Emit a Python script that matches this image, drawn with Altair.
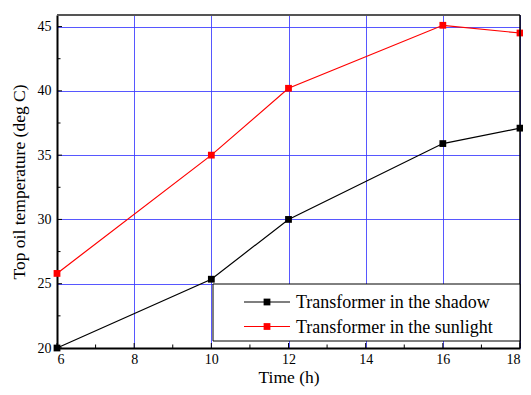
import altair as alt
import pandas as pd

time_h = [6, 10, 12, 16, 18]
shadow = [20.0, 25.35, 30.0, 35.9, 37.1]
sunlight = [25.8, 35.0, 40.2, 45.1, 44.5]
series_names = ["Transformer in the shadow", "Transformer in the sunlight"]
series_colors = ["#000000", "#ff0000"]
x_major = [6, 8, 10, 12, 14, 16, 18]
x_minor = [7, 9, 11, 13, 15, 17]
y_major = [20, 25, 30, 35, 40, 45]
y_minor = [22.5, 27.5, 32.5, 37.5, 42.5]

rows = []
for t, v in zip(time_h, shadow):
    rows.append({"time": t, "temp": v, "series": series_names[0]})
for t, v in zip(time_h, sunlight):
    rows.append({"time": t, "temp": v, "series": series_names[1]})
df = pd.DataFrame(rows)

W, H = 463, 333
FONT = "Liberation Serif"
GRID = "#3a3aff"
xs = alt.Scale(domain=[6, 18], nice=False, zero=False)
ys = alt.Scale(domain=[20, 45.9], nice=False, zero=False)
cs = alt.Scale(domain=series_names, range=series_colors)

axis_common = dict(grid=True, gridColor=GRID, gridWidth=1, gridOpacity=0.85, ticks=False,
                   domainColor="#000", domainWidth=2, labelFont=FONT, labelFontSize=14,
                   labelColor="#000", titleFont=FONT, titleFontSize=17.5,
                   titleFontWeight="normal", titleColor="#000")

lines = alt.Chart(df).mark_line(
    strokeWidth=1.2,
    point=alt.OverlayMarkDef(shape="square", size=46, filled=True, opacity=1),
    clip=False,
).encode(
    x=alt.X("time:Q", scale=xs, title="Time (h)",
            axis=alt.Axis(values=x_major, labelPadding=4, titlePadding=2, **axis_common)),
    y=alt.Y("temp:Q", scale=ys, title="Top oil temperature (deg C)",
            axis=alt.Axis(values=y_major, labelPadding=6, titlePadding=9, **axis_common)),
    color=alt.Color("series:N", scale=cs, legend=None),
)

one = pd.DataFrame({"a": [0]})
xt_major = alt.Chart(pd.DataFrame({"t": x_major})).mark_rule(color="#000", strokeWidth=1).encode(
    x=alt.X("t:Q", scale=xs), y=alt.value(H), y2=alt.value(H - 5))
xt_minor = alt.Chart(pd.DataFrame({"t": x_minor})).mark_rule(color="#000", strokeWidth=1).encode(
    x=alt.X("t:Q", scale=xs), y=alt.value(H), y2=alt.value(H - 3.5))
yt_major = alt.Chart(pd.DataFrame({"v": y_major})).mark_rule(color="#000", strokeWidth=1).encode(
    y=alt.Y("v:Q", scale=ys), x=alt.value(0), x2=alt.value(5))
yt_minor = alt.Chart(pd.DataFrame({"v": y_minor})).mark_rule(color="#000", strokeWidth=1).encode(
    y=alt.Y("v:Q", scale=ys), x=alt.value(0), x2=alt.value(3.5))

top_border = alt.Chart(one).mark_rule(color="#555", strokeWidth=2).encode(
    x=alt.value(0), x2=alt.value(W), y=alt.value(0))
right_border = alt.Chart(one).mark_rule(color="#000", strokeWidth=1.5).encode(
    x=alt.value(W), y=alt.value(0), y2=alt.value(H))

# legend (layout in pixels, relative to right edge of plot)
L = W - 307
leg_box = alt.Chart(one).mark_rect(fill="white", stroke="#000", strokeWidth=1).encode(
    x=alt.value(L), x2=alt.value(W), y=alt.value(269), y2=alt.value(326))
leg_layers = [leg_box]
for i, (name, col) in enumerate(zip(series_names, series_colors)):
    yy = 287 + i * 24.5
    leg_layers.append(alt.Chart(one).mark_rule(color=col, strokeWidth=1.2).encode(
        x=alt.value(L + 31), x2=alt.value(L + 77), y=alt.value(yy)))
    leg_layers.append(alt.Chart(one).mark_point(
        shape="square", size=46, filled=True, color=col, opacity=1).encode(
        x=alt.value(L + 54), y=alt.value(yy)))
    leg_layers.append(alt.Chart(pd.DataFrame({"label": [name]})).mark_text(
        align="left", baseline="middle", font=FONT, fontSize=18, color="#000").encode(
        x=alt.value(L + 83), y=alt.value(yy + 1), text="label:N"))

chart = alt.layer(
    lines, xt_major, xt_minor, yt_major, yt_minor, top_border, right_border, *leg_layers
).properties(
    width=W, height=H,
    autosize=alt.AutoSizeParams(type="none"),
    padding={"left": 49, "top": 7, "right": 3, "bottom": 39},
).configure_view(stroke=None).configure(background="white")

chart.save("out.html", embed_options={"renderer": "svg", "actions": False})
